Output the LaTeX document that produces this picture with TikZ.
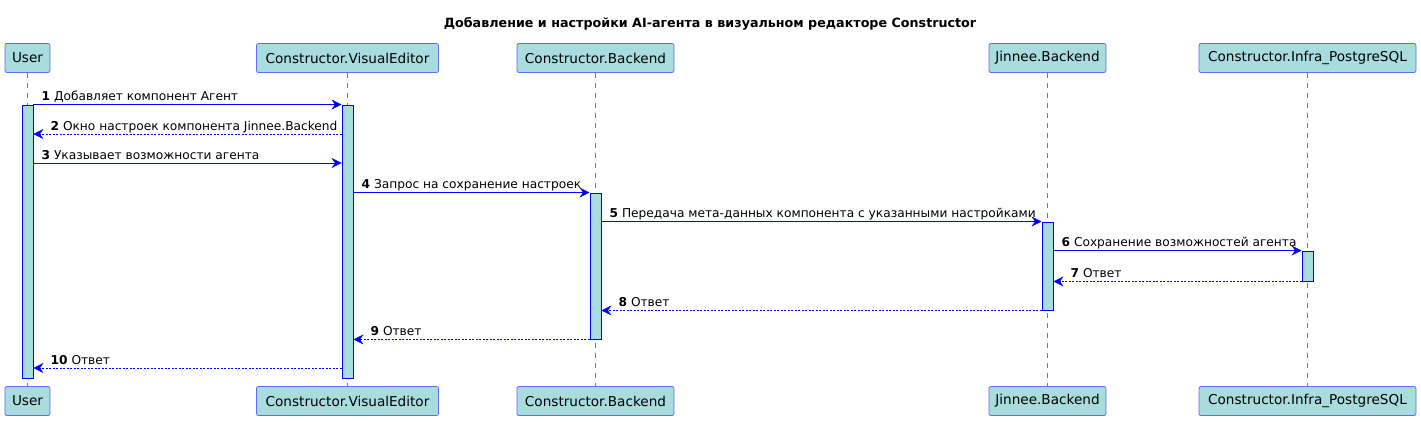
\documentclass[tikz,border=0pt]{standalone}
\usepackage{fontspec}
\setmainfont{DejaVu Sans}
\usetikzlibrary{arrows.meta,positioning}

\definecolor{partfill}{HTML}{A9DCDF}
\definecolor{partline}{HTML}{5F6CF5}
\definecolor{msgblue}{HTML}{0000FF}

\tikzset{
	part/.style = {draw=partline, line width=0.8pt, fill=partfill, rounded corners=2pt, minimum height=29pt, inner sep=0pt, font=\fontsize{13.6}{15}\selectfont},
	life/.style = {draw=partline, line width=0.6pt, dash pattern=on 5pt off 5pt},
	actbox/.style = {draw=msgblue, fill=partfill, minimum width=11pt, inner sep=0pt, line width=0.9pt},
	msg/.style = {draw=msgblue, -{Stealth[length=10pt,width=10pt,inset=3.5pt]}},
	reply/.style = {msg, dash pattern=on 2pt off 1.5pt},
	lbl/.style = {font=\fontsize{12.2}{14}\selectfont, anchor=base west, inner sep=0pt, text=black},
}

\begin{document}
\begin{tikzpicture}[x=1pt, y=-1pt]
	\useasboundingbox (0,0) rectangle (1421,421);

	\node [font=\bfseries\fontsize{12.7}{15}\selectfont] (title) at (710,24) {Добавление и настройки AI-агента в визуальном редакторе Constructor};

	% participants, top and bottom
	\node [part, minimum width=45pt] (pU) at (27.5,58) {User};
	\node [part, minimum width=182pt] (pV) at (347.5,58) {Constructor.VisualEditor};
	\node [part, minimum width=157pt] (pB) at (595.5,58) {Constructor.Backend};
	\node [part, minimum width=117pt] (pJ) at (1047.5,58) {Jinnee.Backend};
	\node [part, minimum width=217pt] (pP) at (1307.5,58) {Constructor.Infra\_PostgreSQL};
	\node [part, minimum width=45pt] (pUb) at (27.5,401) {User};
	\node [part, minimum width=182pt] (pVb) at (347.5,401) {Constructor.VisualEditor};
	\node [part, minimum width=157pt] (pBb) at (595.5,401) {Constructor.Backend};
	\node [part, minimum width=117pt] (pJb) at (1047.5,401) {Jinnee.Backend};
	\node [part, minimum width=217pt] (pPb) at (1307.5,401) {Constructor.Infra\_PostgreSQL};

	\draw [life] (pU) -- (pUb);
	\draw [life] (pV) -- (pVb);
	\draw [life] (pB) -- (pBb);
	\draw [life] (pJ) -- (pJb);
	\draw [life] (pP) -- (pPb);

	% activations
	\node [actbox, minimum height=273pt] (actU) at (27.5,241.5) {};
	\node [actbox, minimum height=273pt] (actV) at (347.5,241.5) {};
	\node [actbox, minimum height=146pt] (actB) at (595.5,266) {};
	\node [actbox, minimum height=88pt] (actJ) at (1047.5,266) {};
	\node [actbox, minimum height=30pt] (actP) at (1307.5,266) {};

	% messages
	\draw [msg] (actU.north east) node [lbl, xshift=8pt, yshift=4pt] {\textbf{1} Добавляет компонент Агент} -- (actV.north west);
	\draw [reply] (actV.west |- 0,134) -- (actU.east |- 0,134) node [lbl, xshift=17pt, yshift=4pt] {\textbf{2} Окно настроек компонента Jinnee.Backend};
	\draw [msg] (actU.east |- 0,163) node [lbl, xshift=8pt, yshift=4pt] {\textbf{3} Указывает возможности агента} -- (actV.west |- 0,163);
	\draw [msg] (actV.east |- actB.north) node [lbl, xshift=8pt, yshift=4pt] {\textbf{4} Запрос на сохранение настроек} -- (actB.north west);
	\draw [msg] (actB.east |- actJ.north) node [lbl, xshift=8pt, yshift=4pt] {\textbf{5} Передача мета-данных компонента с указанными настройками} -- (actJ.north west);
	\draw [msg] (actJ.east |- actP.north) node [lbl, xshift=8pt, yshift=4pt] {\textbf{6} Сохранение возможностей агента} -- (actP.north west);
	\draw [reply] (actP.south west) -- (actJ.east |- actP.south) node [lbl, xshift=17pt, yshift=4pt] {\textbf{7} Ответ};
	\draw [reply] (actJ.south west) -- (actB.east |- actJ.south) node [lbl, xshift=17pt, yshift=4pt] {\textbf{8} Ответ};
	\draw [reply] (actB.south west) -- (actV.east |- actB.south) node [lbl, xshift=17pt, yshift=4pt] {\textbf{9} Ответ};
	\draw [reply] (actV.west |- 0,368) -- (actU.east |- 0,368) node [lbl, xshift=17pt, yshift=4pt] {\textbf{10} Ответ};
\end{tikzpicture}
\end{document}
